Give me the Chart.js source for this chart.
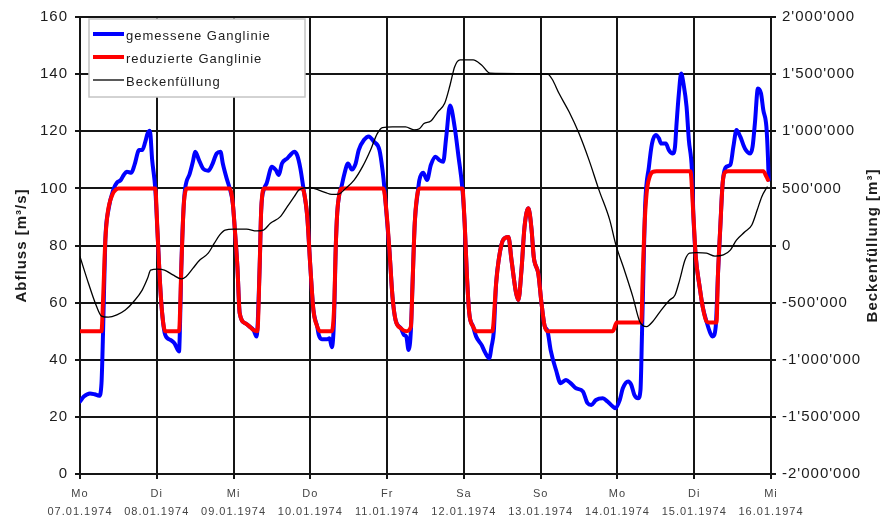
<!DOCTYPE html>
<html lang="de">
<head>
<meta charset="utf-8">
<title>Ganglinie und Beckenfüllung</title>
<script src="https://cdn.jsdelivr.net/npm/chart.js@4/dist/chart.umd.min.js"></script>
<style>
  html, body { margin: 0; padding: 0; background: #fff; }
  #wrap { width: 882px; height: 518px; position: relative; }
</style>
</head>
<body>
<div id="wrap"><canvas id="c"></canvas></div>
<script>
// Time axis: days since Mo 07.01.1974 00:00
const dayNames = ['Mo', 'Di', 'Mi', 'Do', 'Fr', 'Sa', 'So', 'Mo', 'Di', 'Mi'];
const dayDates = ['07.01.1974', '08.01.1974', '09.01.1974', '10.01.1974', '11.01.1974',
                  '12.01.1974', '13.01.1974', '14.01.1974', '15.01.1974', '16.01.1974'];

// Measured hydrograph (gemessene Ganglinie), m³/s
const measuredT = [0, 0.05, 0.13, 0.19, 0.25, 0.28, 0.30, 0.33, 0.37, 0.44, 0.48, 0.53, 0.57, 0.61, 0.67, 0.71, 0.77, 0.81, 0.85, 0.88, 0.91, 0.94, 0.98,
  1.01, 1.04, 1.07, 1.11, 1.18, 1.23, 1.29, 1.30, 1.32, 1.35, 1.37, 1.43, 1.47, 1.50, 1.55, 1.60, 1.67, 1.72, 1.78, 1.83, 1.86, 1.91, 1.95,
  1.99, 2.02, 2.05, 2.08, 2.15, 2.21, 2.26, 2.30, 2.34, 2.36, 2.40, 2.43, 2.50, 2.55, 2.59, 2.63, 2.70, 2.74, 2.79, 2.83, 2.87, 2.91,
  2.96, 3.00, 3.04, 3.09, 3.11, 3.15, 3.22, 3.25, 3.28, 3.31, 3.33, 3.35, 3.38, 3.40, 3.44, 3.49, 3.54, 3.59, 3.63, 3.70, 3.76, 3.83, 3.90, 3.94, 3.965,
  4.03, 4.07, 4.11, 4.18, 4.22, 4.25, 4.28, 4.31, 4.33, 4.36, 4.40, 4.42, 4.47, 4.52, 4.57, 4.63, 4.68, 4.73, 4.77, 4.82, 4.88, 4.93, 4.98,
  5.01, 5.04, 5.07, 5.12, 5.16, 5.23, 5.27, 5.33, 5.36, 5.39, 5.42, 5.46, 5.51, 5.58, 5.62, 5.68, 5.71, 5.75, 5.79, 5.84, 5.88, 5.91, 5.97,
  6.01, 6.05, 6.09, 6.13, 6.20, 6.26, 6.33, 6.39, 6.46, 6.55, 6.61, 6.66, 6.72, 6.81, 6.87, 6.94, 6.97,
  7.03, 7.07, 7.14, 7.18, 7.22, 7.27, 7.30, 7.32, 7.34, 7.36, 7.41, 7.45, 7.50, 7.54, 7.57, 7.63, 7.67, 7.72, 7.75, 7.77, 7.80, 7.83, 7.86, 7.90, 7.93, 7.97,
  7.99, 8.02, 8.07, 8.11, 8.16, 8.21, 8.24, 8.28, 8.31, 8.34, 8.37, 8.42, 8.47, 8.51, 8.55, 8.60, 8.66, 8.73, 8.76, 8.79, 8.83, 8.87, 8.90, 8.94, 8.96, 8.97];
const measuredQ = [25.4, 27.1, 28.2, 27.9, 27.4, 31.8, 49.3, 81.9, 92.4, 100, 102, 102.9, 104.7, 105.8, 105.5, 108.2, 113.4, 113.4, 116.3, 119.2, 120.2, 109.9, 100,
  84.3, 67.9, 56.3, 48.7, 46.9, 45.8, 42.9, 49.3, 72.6, 93.6, 100, 105.2, 109.3, 112.8, 109.9, 107, 106.2, 108.2, 112.2, 112.8, 108.7, 103.5, 100,
  94.8, 84.3, 72.6, 56.3, 52.8, 51.6, 50.4, 48.1, 72.6, 92.4, 100, 101.7, 107.6, 106.4, 104.7, 108.7, 110.5, 111.7, 112.8, 111.5, 107, 100,
  90.1, 72.6, 57.4, 51.6, 48.7, 47.2, 47.2, 47.5, 44.4, 55.1, 78.4, 91.3, 98.3, 100, 104.7, 108.7, 106.6, 108.7, 113.4, 117, 118.2, 116.3, 113.4, 106.4, 100,
  78.4, 62.1, 53.9, 51, 48.7, 48.1, 43.4, 50.4, 65.6, 87.8, 98.8, 102.9, 105.5, 102.9, 108.2, 111.1, 109.9, 109.3, 118, 129, 121.4, 111.1, 100,
  87.8, 69.1, 56.3, 51.6, 48.1, 45.2, 42.9, 40.5, 44.6, 50, 66.8, 76.1, 81.9, 83, 74.9, 63.3, 60.9, 71.4, 86.6, 93, 86, 76, 70,
  60, 52, 50, 43.4, 36.4, 31.8, 32.9, 31.8, 30, 28.9, 24.8, 24.2, 25.9, 26.5, 25.4, 23.6, 23,
  25.9, 30, 32.4, 31.2, 27.7, 26.5, 29.4, 49.3, 72, 93.6, 107.6, 115.7, 118.7, 117.5, 115.7, 115.7, 113.4, 112.2, 114.6, 122.7, 133.2, 140.2, 136.7, 128.6, 116.9, 106.4,
  90.1, 76.1, 65.6, 58.6, 53.4, 49.3, 48.1, 51.6, 70.3, 86.6, 101.7, 107.6, 108.2, 114.6, 120.4, 118.1, 114, 112.2, 114.6, 122.7, 135, 133.2, 127.4, 121.6, 111.1, 103];

// Reduced hydrograph (reduzierte Ganglinie), m³/s
const reducedT = [0, 0.28, 0.30, 0.33, 0.36, 0.42, 0.47, 0.50, 0.98, 1.01, 1.04, 1.07, 1.11, 1.29, 1.32, 1.35, 1.38, 1.40,
  1.95, 1.99, 2.02, 2.05, 2.08, 2.15, 2.21, 2.26, 2.31, 2.34, 2.36, 2.40, 2.89, 2.92, 2.96, 3.00, 3.04, 3.09, 3.13,
  3.28, 3.31, 3.33, 3.35, 3.38, 3.41, 3.95, 3.99, 4.03, 4.07, 4.11, 4.18, 4.25, 4.31, 4.33, 4.36, 4.40, 4.43,
  4.98, 5.01, 5.04, 5.07, 5.12, 5.16, 5.37, 5.42, 5.46, 5.51, 5.58, 5.62, 5.68, 5.71, 5.75, 5.79, 5.84, 5.88, 5.91, 5.97,
  6.01, 6.05, 6.09, 6.94, 6.99, 7.31, 7.33, 7.35, 7.38, 7.42, 7.46, 7.51, 7.95, 7.99, 8.02, 8.07, 8.11, 8.16, 8.20,
  8.29, 8.31, 8.34, 8.37, 8.41, 8.44, 8.90, 8.94, 8.96];
const reducedQ = [50, 50, 60.9, 81.9, 91.3, 97.7, 99.6, 100, 100, 84.3, 67.9, 56.3, 50, 50, 72.6, 93.6, 99.6, 100,
  100, 94.8, 84.3, 72.6, 56.3, 52.8, 51.6, 50.4, 50, 72.6, 92.4, 100, 100, 98.3, 90.1, 72.6, 57.4, 51.6, 50,
  50, 58.6, 78.4, 91.3, 98.3, 100, 100, 92.4, 78.4, 62.1, 53.9, 51, 50, 51.6, 65.6, 87.8, 98.8, 100,
  100, 87.8, 69.1, 56.3, 51.6, 50, 50, 66.8, 76.1, 81.9, 83, 74.9, 63.3, 60.9, 71.4, 86.6, 93, 86, 76, 70,
  60, 52, 50, 50, 53, 53, 70.3, 85.4, 98.3, 104.1, 105.8, 106, 106, 90.1, 76.1, 65.6, 58.6, 53.4, 53,
  53, 70.3, 86.6, 101.7, 105.8, 106, 106, 104.1, 103];

// Storage volume (Beckenfüllung), m³
const storageT = [0, 0.11, 0.20, 0.28, 0.37, 0.48, 0.59, 0.70, 0.81, 0.88, 0.92, 1.01, 1.10, 1.21, 1.32, 1.38, 1.47, 1.56, 1.67, 1.75, 1.82, 1.89,
  2.00, 2.17, 2.30, 2.39, 2.48, 2.61, 2.70, 2.79, 2.85, 2.92, 3.00, 3.11, 3.20, 3.28, 3.37, 3.46, 3.57, 3.68, 3.79, 3.87, 3.94,
  4.07, 4.24, 4.35, 4.42, 4.48, 4.57, 4.66, 4.75, 4.82, 4.88, 4.95, 5.12, 5.23, 5.34, 6.09, 6.15, 6.24, 6.37, 6.50, 6.63, 6.76, 6.90, 6.98,
  7.09, 7.20, 7.29, 7.38, 7.46, 7.57, 7.68, 7.75, 7.81, 7.88, 7.94, 8.03, 8.16, 8.27, 8.38, 8.47, 8.55, 8.66, 8.75, 8.82, 8.88, 8.95];
const storageV = [-97500, -330000, -505000, -617500, -627500, -607500, -565000, -490000, -390000, -287500, -215000, -207500, -215000, -257500, -292500, -272500, -200000, -127500, -67500, 20000, 92500, 135000,
  142500, 142500, 127500, 135000, 195000, 252500, 340000, 427500, 485000, 505000, 507500, 485000, 462500, 447500, 450000, 500000, 572500, 690000, 845000, 977500, 1032500,
  1037500, 1037500, 1012500, 1022500, 1067500, 1090000, 1170000, 1245000, 1405000, 1565000, 1625000, 1625000, 1580000, 1507500, 1500000, 1455000, 1330000, 1170000, 980000, 747500, 485000, 222500, 5000,
  -215000, -447500, -665000, -710000, -665000, -565000, -477500, -432500, -302500, -127500, -67500, -62500, -67500, -92500, -82500, -40000, 47500, 120000, 180000, 310000, 427500, 512500];

const toPoints = (xs, ys) => xs.map((x, i) => ({ x: x, y: ys[i] }));

const swissNumber = v => {
  const s = Math.abs(v).toFixed(0).replace(/\B(?=(\d{3})+(?!\d))/g, "'");
  return (v < 0 ? '-' : '') + s;
};

const FONT = "'Liberation Sans', Arial, sans-serif";
const INK = '#1c1c1c';
const GRID = '#151515';

// Wider letter spacing for all canvas text
const spacingPlugin = {
  id: 'spacing',
  beforeDraw(chart) { chart.ctx.letterSpacing = '1px'; }
};

// Rotated axis titles, both reading bottom-to-top
const axisTitlePlugin = {
  id: 'axisTitles',
  afterDraw(chart) {
    const { ctx, chartArea } = chart;
    const midY = (chartArea.top + chartArea.bottom) / 2;
    const draw = (text, x) => {
      ctx.save();
      ctx.translate(x, midY);
      ctx.rotate(-Math.PI / 2);
      ctx.font = 'bold 15px ' + FONT;
      ctx.fillStyle = INK;
      ctx.textAlign = 'center';
      ctx.textBaseline = 'middle';
      ctx.fillText(text, 0, 0);
      ctx.restore();
    };
    draw('Abfluss [m³/s]', 22);
    draw('Beckenfüllung [m³]', 873);
  }
};

// Boxed legend in the upper left of the plot
const boxLegendPlugin = {
  id: 'boxLegend',
  afterDatasetsDraw(chart) {
    const { ctx, chartArea } = chart;
    const left = chartArea.left + 9, top = chartArea.top + 2;
    const w = 216, h = 78;
    ctx.save();
    ctx.fillStyle = '#fff';
    ctx.fillRect(left, top, w, h);
    ctx.strokeStyle = '#c4c4c4';
    ctx.lineWidth = 1.5;
    ctx.strokeRect(left, top, w, h);
    const rowY = [top + 15, top + 38, top + 61];
    chart.data.datasets.forEach((ds, i) => {
      const y = rowY[i];
      ctx.beginPath();
      ctx.moveTo(left + 4, y);
      ctx.lineTo(left + 35, y);
      ctx.strokeStyle = ds.borderColor;
      ctx.lineWidth = ds.borderWidth;
      ctx.lineCap = 'butt';
      ctx.stroke();
      ctx.font = '13px ' + FONT;
      ctx.fillStyle = INK;
      ctx.textAlign = 'left';
      ctx.textBaseline = 'middle';
      ctx.fillText(ds.label, left + 37, y + 2);
    });
    ctx.restore();
  }
};

new Chart(document.getElementById('c'), {
  type: 'line',
  data: {
    datasets: [
      {
        label: 'gemessene Ganglinie',
        data: toPoints(measuredT, measuredQ),
        borderColor: '#0000ff',
        borderWidth: 4,
        yAxisID: 'y',
        order: 3
      },
      {
        label: 'reduzierte Ganglinie',
        data: toPoints(reducedT, reducedQ),
        borderColor: '#ff0000',
        borderWidth: 4,
        yAxisID: 'y',
        order: 2
      },
      {
        label: 'Beckenfüllung',
        data: toPoints(storageT, storageV),
        borderColor: '#000000',
        borderWidth: 1.3,
        yAxisID: 'y2',
        order: 1
      }
    ]
  },
  options: {
    responsive: true,
    maintainAspectRatio: false,
    animation: false,
    devicePixelRatio: 1,
    layout: { padding: { top: 17, left: 0, right: 0, bottom: 0 } },
    elements: {
      point: { radius: 0 },
      line: { cubicInterpolationMode: 'monotone', borderJoinStyle: 'round', borderCapStyle: 'round' }
    },
    plugins: {
      legend: { display: false },
      tooltip: { enabled: false }
    },
    scales: {
      x: {
        type: 'linear',
        position: 'bottom',
        min: 0,
        max: 9,
        afterFit(scale) { scale.height = 44; },
        ticks: {
          stepSize: 1,
          autoSkip: false,
          maxRotation: 0,
          padding: 6,
          color: '#444',
          font: { family: FONT, size: 11, lineHeight: 1.64 },
          callback: v => [dayNames[v], dayDates[v]]
        },
        grid: { color: GRID, lineWidth: 2, tickLength: 5, drawTicks: true },
        border: { display: true, color: GRID, width: 2 }
      },
      y: {
        position: 'left',
        min: 0,
        max: 160,
        afterFit(scale) { scale.width = 80; },
        ticks: {
          stepSize: 20,
          padding: 7,
          color: INK,
          font: { family: FONT, size: 15 }
        },
        grid: { color: GRID, lineWidth: 2, tickLength: 5 },
        border: { display: true, color: GRID, width: 2 }
      },
      y2: {
        position: 'right',
        min: -2000000,
        max: 2000000,
        afterFit(scale) { scale.width = 111; },
        ticks: {
          stepSize: 500000,
          padding: 6,
          color: INK,
          font: { family: FONT, size: 15 },
          callback: v => swissNumber(v)
        },
        grid: { drawOnChartArea: false, color: GRID, lineWidth: 2, tickLength: 5 },
        border: { display: true, color: GRID, width: 2 }
      }
    }
  },
  plugins: [spacingPlugin, boxLegendPlugin, axisTitlePlugin]
});
</script>
</body>
</html>
